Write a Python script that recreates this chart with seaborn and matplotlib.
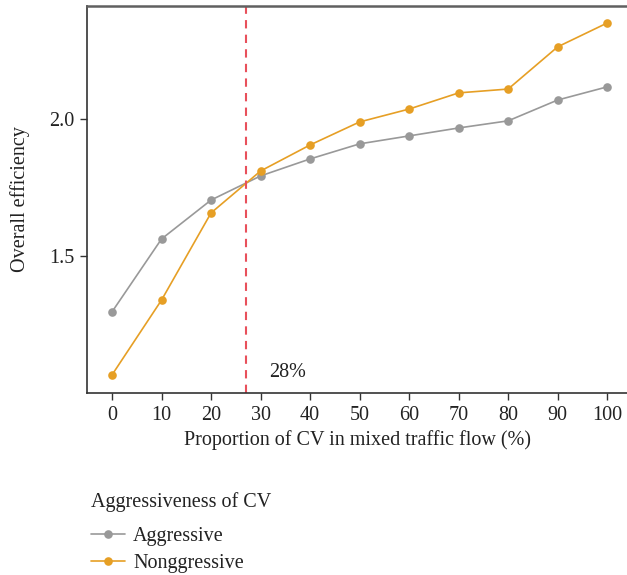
import matplotlib
matplotlib.use("Agg")
import matplotlib.pyplot as plt
import seaborn as sns
import pandas as pd

proportion = [0, 10, 20, 30, 40, 50, 60, 70, 80, 90, 100]
aggressive = [1.296, 1.562, 1.704, 1.792, 1.854, 1.909, 1.938, 1.967, 1.993, 2.069, 2.117]
nonaggressive = [1.066, 1.339, 1.657, 1.810, 1.905, 1.989, 2.036, 2.095, 2.109, 2.263, 2.350]
series_names = ["Aggressive", "Nonggressive"]
threshold_x = 27
threshold_label = "28%"
yticks = [1.5, 2.0]
xticks = proportion

df = pd.DataFrame({
    "x": proportion * 2,
    "y": aggressive + nonaggressive,
    "Aggressiveness of CV": [series_names[0]] * len(proportion) + [series_names[1]] * len(proportion),
})

sns.set_style("white")
plt.rcParams["font.family"] = ["Liberation Serif", "DejaVu Serif"]
FS = 14.5

fig = plt.figure(figsize=(6.27, 5.75), dpi=100)
ax = fig.add_axes([87/627, (575-393)/575, 1 - 87/627, (393-6)/575])

palette = {series_names[0]: "#999999", series_names[1]: "#E69F25"}
sns.lineplot(data=df, x="x", y="y", hue="Aggressiveness of CV", palette=palette,
             marker="o", markersize=6.2, markeredgewidth=0, linewidth=1.2, ax=ax)

ax.axvline(threshold_x, color="#E8505B", linestyle=(0, (4, 3)), linewidth=1.5)
ax.text(31.8, 1.073, threshold_label, fontsize=FS, color="#222222", va="center", ha="left")

ax.set_xlim(-5.05, 104)
ax.set_ylim(1.0, 2.412)
ax.set_xticks(xticks)
ax.set_yticks(yticks)
ax.set_xticklabels([str(v) for v in xticks])
ax.set_yticklabels([f"{v:.1f}" for v in yticks])
ax.tick_params(axis="both", labelsize=FS, length=5, width=1, color="#333333",
               labelcolor="#222222", direction="out", bottom=True, left=True, pad=4)
ax.set_xlabel("Proportion of CV in mixed traffic flow (%)", fontsize=FS, color="#222222", labelpad=4)
ax.set_ylabel("Overall efficiency", fontsize=FS, color="#222222", labelpad=14)

for s in ["left", "bottom"]:
    ax.spines[s].set_color("#333333")
    ax.spines[s].set_linewidth(1.2)
ax.spines["top"].set_color("#606060")
ax.spines["top"].set_linewidth(1.8)
ax.spines["right"].set_visible(False)

handles, labels = ax.get_legend_handles_labels()
ax.get_legend().remove()
leg = fig.legend(handles, labels, title="Aggressiveness of CV", loc="upper left",
                 bbox_to_anchor=(91/627, 1 - 492/575), frameon=False, fontsize=FS,
                 title_fontsize=FS, alignment="left", handlelength=1.7,
                 handletextpad=0.4, labelspacing=0.4, borderaxespad=0, borderpad=0)
leg._legend_box.sep = 11
for t in leg.get_texts():
    t.set_color("#222222")
leg.get_title().set_color("#222222")

fig.savefig("out.png", dpi=100)
